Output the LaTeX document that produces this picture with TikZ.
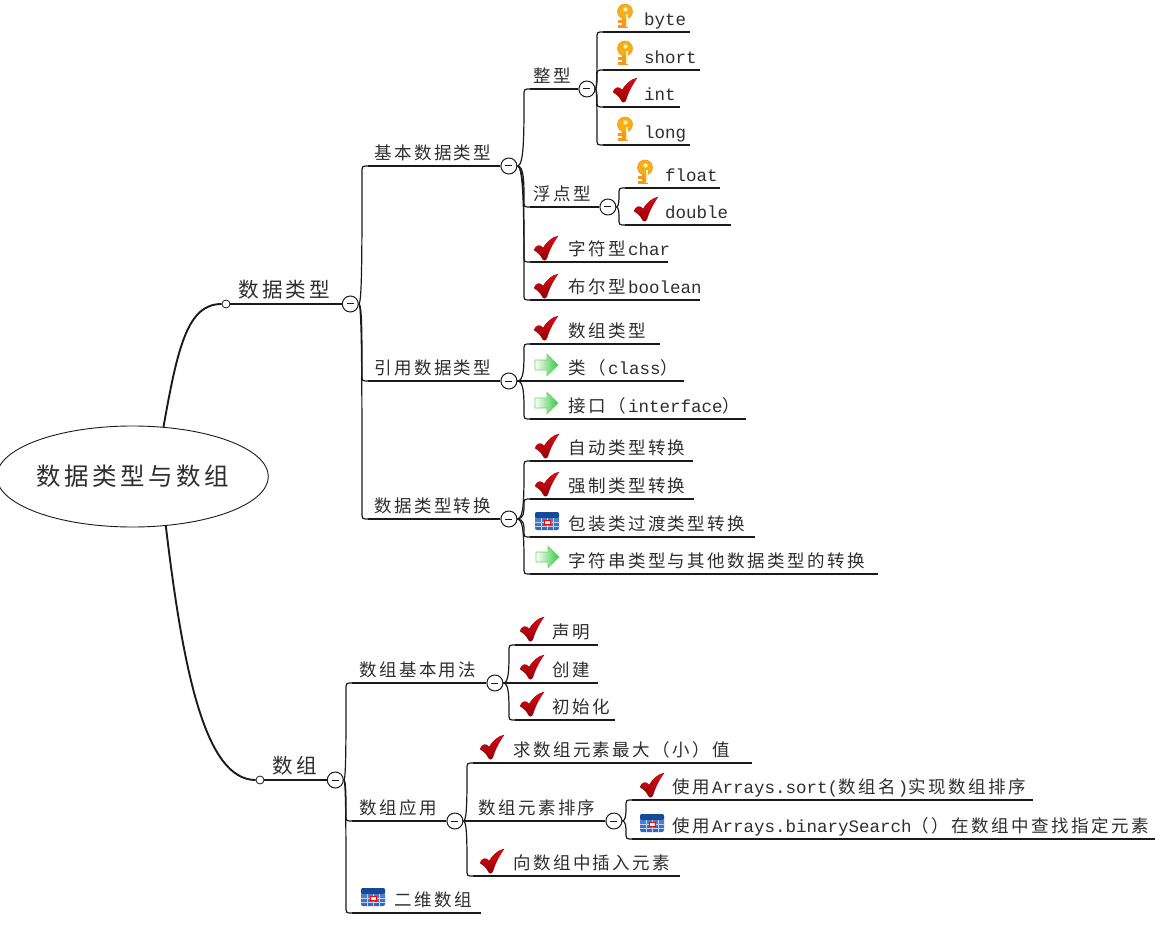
\documentclass[tikz,border=0pt]{standalone}
\usepackage{xcolor}
\usepackage{fontspec}
\setmainfont{Noto Sans CJK SC}[LetterSpace=14]
\setmonofont{Liberation Mono}
\usepackage{tikz}
\usetikzlibrary{arrows.meta,calc,shapes.geometric}
\definecolor{inkline}{HTML}{1A1A1A}
\definecolor{inktext}{HTML}{2E2E2E}
\definecolor{keyfill}{HTML}{F39A1E}
\definecolor{keyhole}{HTML}{FFF0B8}
\definecolor{tickfill}{HTML}{E00A12}
\definecolor{tickdark}{HTML}{900006}
\definecolor{arrowfill}{HTML}{36C83C}
\definecolor{tablefill}{HTML}{2A63BE}
\definecolor{tabledark}{HTML}{174A96}
\tikzset{
  topicline/.style={draw=inkline, line width=1.1pt},
  topic/.style 2 args={anchor=south west, inner sep=0pt, text width=#1pt,
                       text height=15pt, text depth=6pt, align=left,
                       text=inktext, font=\fontsize{17.5}{20}\selectfont,
                       execute at begin node={\hspace*{#2pt}},
                       append after command={(\tikzlastnode.south west)
                         edge[topicline] (\tikzlastnode.south east)}},
  maintopic/.style 2 args={topic={#1}{#2},
                       font=\fontsize{20.6}{24}\selectfont,
                       text height=18pt, text depth=6pt},
  rootnode/.style={ellipse, draw=inkline, line width=0.9pt, inner sep=0pt,
                   minimum width=255pt, minimum height=101pt, text=inktext,
                   font=\fontsize{24.5}{28}\selectfont},
  dotnode/.style={circle, draw=inkline, fill=white, line width=0.8pt,
                  minimum size=8pt, inner sep=0pt},
  fold/.style={circle, draw=inkline, fill=white, line width=1.0pt,
               minimum size=16pt, inner sep=0pt, anchor=west,
               path picture={\draw[line width=1pt,draw=inkline]
                 ([xshift=-3.5pt]path picture bounding box.center)--
                 ([xshift=3.5pt]path picture bounding box.center);}},
  rootlink/.style={draw=inkline, line width=1.9pt},
  branch/.style={draw=inkline, line width=1.2pt,
    to path={let \p1=(\tikztostart), \p2=(\tikztotarget),
                 \n1={7*sign(\y2-\y1)} in
      (\p1) .. controls (\x2-6,\y1) and (\x2-6,\y1+0.4*\y2-0.4*\y1)
      .. (\x2-6,\y2-\n1) .. controls (\x2-6,\y2) .. (\p2)}},
  tickicon/.pic={
    \path[top color=tickfill, bottom color=tickdark, draw=tickdark,
          line width=0.3pt]
      (-12,2) .. controls (-10,-3) and (-6,-4) .. (-3,0)
      .. controls (1,-6) and (6,-11) .. (12,-12)
      .. controls (7,-5) and (3,3) .. (1,10)
      .. controls (0,13) and (-3,13) .. (-4,10)
      .. controls (-6,6) and (-9,4) .. (-12,2) -- cycle;},
  keyicon/.pic={
    \fill[keyfill] (-3,-5) rectangle (3,12);
    \fill[keyfill] (-7,4) rectangle (0,7);
    \fill[keyfill] (-7,9) rectangle (0,12);
    \fill[keyfill!80!yellow, draw=keyfill, line width=0.6pt] (0,-4.5) circle (7.5);
    \fill[keyhole] (0.5,-6.5) circle (2.2);
    \fill[keyhole] (1.3,-2) rectangle (2.6,11);},
  arrowicon/.pic={
    \path[left color=white, right color=arrowfill,
          draw=arrowfill!75!white, line width=0.9pt]
      (-11,-5) -- (1,-5) -- (1,-10.5) -- (12,0) -- (1,10.5) -- (1,5)
      -- (-11,5) -- cycle;},
  tableicon/.pic={
    \path[top color=tablefill!70!white, bottom color=tablefill,
          rounded corners=2pt] (-12,-9) rectangle (12,9);
    \fill[tabledark, rounded corners=2pt] (-12,-9) rectangle (12,-3);
    \foreach \gx in {-6,0,6}
      \draw[white!70!tablefill, line width=0.4pt] (\gx,-3)--(\gx,9);
    \foreach \gy in {1,5}
      \draw[white!70!tablefill, line width=0.4pt] (-12,\gy)--(12,\gy);
    \draw[red, fill=white, line width=0.8pt] (-3,-1) rectangle (3,3);}
}
\begin{document}
\begin{tikzpicture}[x=1pt,y=-1pt]
  \useasboundingbox (0,0) rectangle (1173,933);

  % Root and the two main branches.
  \node[rootnode] (root) at (132.5,476.5) {数据类型与数组};
  \node[dotnode] (dotA) at (226,304) {};
  \node[dotnode] (dotB) at (260,780) {};
  \draw[rootlink] (root.58) .. controls (178,345) and (188,304) .. (dotA.west);
  \draw[rootlink] (root.-56) .. controls (183,670) and (205,780) .. (dotB.west);

  \node[maintopic={111}{8}] (types) at (dotA.east) {数据类型};
  \node[fold] (foldTypes) at (types.south east) {};
  \node[maintopic={62}{8}] (arrays) at (dotB.east) {数组};
  \node[fold] (foldArrays) at (arrays.south east) {};

  % -------------------------------------------------------------------------
  % Data types, second level.
  \node[topic={132}{6}] (basic) at (368,166) {基本数据类型};
  \node[fold] (foldBasic) at (basic.south east) {};
  \node[topic={132}{6}] (refs) at (368,381) {引用数据类型};
  \node[fold] (foldRefs) at (refs.south east) {};
  \node[topic={132}{6}] (conv) at (368,519) {数据类型转换};
  \node[fold] (foldConv) at (conv.south east) {};
  \draw[branch] (foldTypes.east) to (basic.south west);
  \draw[branch] (foldTypes.east) to (refs.south west);
  \draw[branch] (foldTypes.east) to (conv.south west);

  % Primitive types.
  \node[topic={48}{3}] (intg) at (530,89) {整型};
  \node[fold] (foldIntg) at (intg.south east) {};
  \node[topic={69}{3}] (real) at (530,207) {浮点型};
  \node[fold] (foldReal) at (real.south east) {};
  \node[topic={138}{38}] (chr) at (530,262) {字符型\texttt{char}};
  \node[topic={170}{38}] (bool) at (530,300) {布尔型\texttt{boolean}};
  \draw[branch] (foldBasic.east) to (intg.south west);
  \draw[branch] (foldBasic.east) to (real.south west);
  \draw[branch] (foldBasic.east) to (chr.south west);
  \draw[branch] (foldBasic.east) to (bool.south west);
  \pic at (546,248) {tickicon};
  \pic at (546,286) {tickicon};

  \node[topic={87}{41}] (byte) at (603,32) {\texttt{byte}};
  \node[topic={97}{41}] (short) at (603,70) {\texttt{short}};
  \node[topic={77}{41}] (int) at (603,107) {\texttt{int}};
  \node[topic={87}{41}] (long) at (603,145) {\texttt{long}};
  \draw[branch] (foldIntg.east) to (byte.south west);
  \draw[branch] (foldIntg.east) to (short.south west);
  \draw[branch] (foldIntg.east) to (int.south west);
  \draw[branch] (foldIntg.east) to (long.south west);
  \pic at (625,16) {keyicon};
  \pic at (625,53) {keyicon};
  \pic at (625,90) {tickicon};
  \pic at (625,129) {keyicon};

  \node[topic={95}{40}] (float) at (625,188) {\texttt{float}};
  \node[topic={106}{40}] (double) at (625,225) {\texttt{double}};
  \draw[branch] (foldReal.east) to (float.south west);
  \draw[branch] (foldReal.east) to (double.south west);
  \pic at (645,172) {keyicon};
  \pic at (646,209) {tickicon};

  % Reference types.
  \node[topic={130}{38}] (arrtype) at (530,344) {数组类型};
  \node[topic={154}{38}] (class) at (530,381) {类（\texttt{class}）};
  \node[topic={216}{38}] (iface) at (530,419) {接口（\texttt{interface}）};
  \draw[branch] (foldRefs.east) to (arrtype.south west);
  \draw[branch] (foldRefs.east) -- (class.south west);
  \draw[branch] (foldRefs.east) to (iface.south west);
  \pic at (546,328) {tickicon};
  \pic at (546,365) {arrowicon};
  \pic at (546,403) {arrowicon};

  % Conversions.
  \node[topic={163}{38}] (auto) at (530,461) {自动类型转换};
  \node[topic={164}{38}] (cast) at (530,499) {强制类型转换};
  \node[topic={225}{38}] (wrap) at (530,537) {包装类过渡类型转换};
  \node[topic={348}{38}] (str) at (530,574) {字符串类型与其他数据类型的转换};
  \draw[branch] (foldConv.east) to (auto.south west);
  \draw[branch] (foldConv.east) to (cast.south west);
  \draw[branch] (foldConv.east) to (wrap.south west);
  \draw[branch] (foldConv.east) to (str.south west);
  \pic at (547,446) {tickicon};
  \pic at (547,484) {tickicon};
  \pic at (547,521) {tableicon};
  \pic at (547,557) {arrowicon};

  % -------------------------------------------------------------------------
  % Arrays, second level.
  \node[topic={134}{7}] (usage) at (352,683) {数组基本用法};
  \node[fold] (foldUsage) at (usage.south east) {};
  \node[topic={94}{7}] (apply) at (352,821) {数组应用};
  \node[fold] (foldApply) at (apply.south east) {};
  \node[topic={129}{42}] (twod) at (352,913) {二维数组};
  \draw[branch] (foldArrays.east) to (usage.south west);
  \draw[branch] (foldArrays.east) to (apply.south west);
  \draw[branch] (foldArrays.east) to (twod.south west);
  \pic at (373,897) {tableicon};

  \node[topic={83}{37}] (decl) at (515,645) {声明};
  \node[topic={83}{37}] (make) at (515,683) {创建};
  \node[topic={100}{37}] (init) at (515,720) {初始化};
  \draw[branch] (foldUsage.east) to (decl.south west);
  \draw[branch] (foldUsage.east) -- (make.south west);
  \draw[branch] (foldUsage.east) to (init.south west);
  \pic at (532,629) {tickicon};
  \pic at (532,667) {tickicon};
  \pic at (532,704) {tickicon};

  \node[topic={279}{40}] (maxval) at (473,763) {求数组元素最大（小）值};
  \node[topic={132}{5}] (sorting) at (473,821) {数组元素排序};
  \node[fold] (foldSort) at (sorting.south east) {};
  \node[topic={207}{40}] (insert) at (473,876) {向数组中插入元素};
  \draw[branch] (foldApply.east) to (maxval.south west);
  \draw[branch] (foldApply.east) -- (sorting.south west);
  \draw[branch] (foldApply.east) to (insert.south west);
  \pic at (492,747) {tickicon};
  \pic at (492,861) {tickicon};

  \node[topic={401}{40}] (sort) at (632,800) {使用\texttt{Arrays.sort(}数组名\texttt{)}实现数组排序};
  \node[topic={523}{40}] (search) at (632,839) {使用\texttt{Arrays.binarySearch}（）在数组中查找指定元素};
  \draw[branch] (foldSort.east) to (sort.south west);
  \draw[branch] (foldSort.east) to (search.south west);
  \pic at (652,785) {tickicon};
  \pic at (652,823) {tableicon};
\end{tikzpicture}
\end{document}
